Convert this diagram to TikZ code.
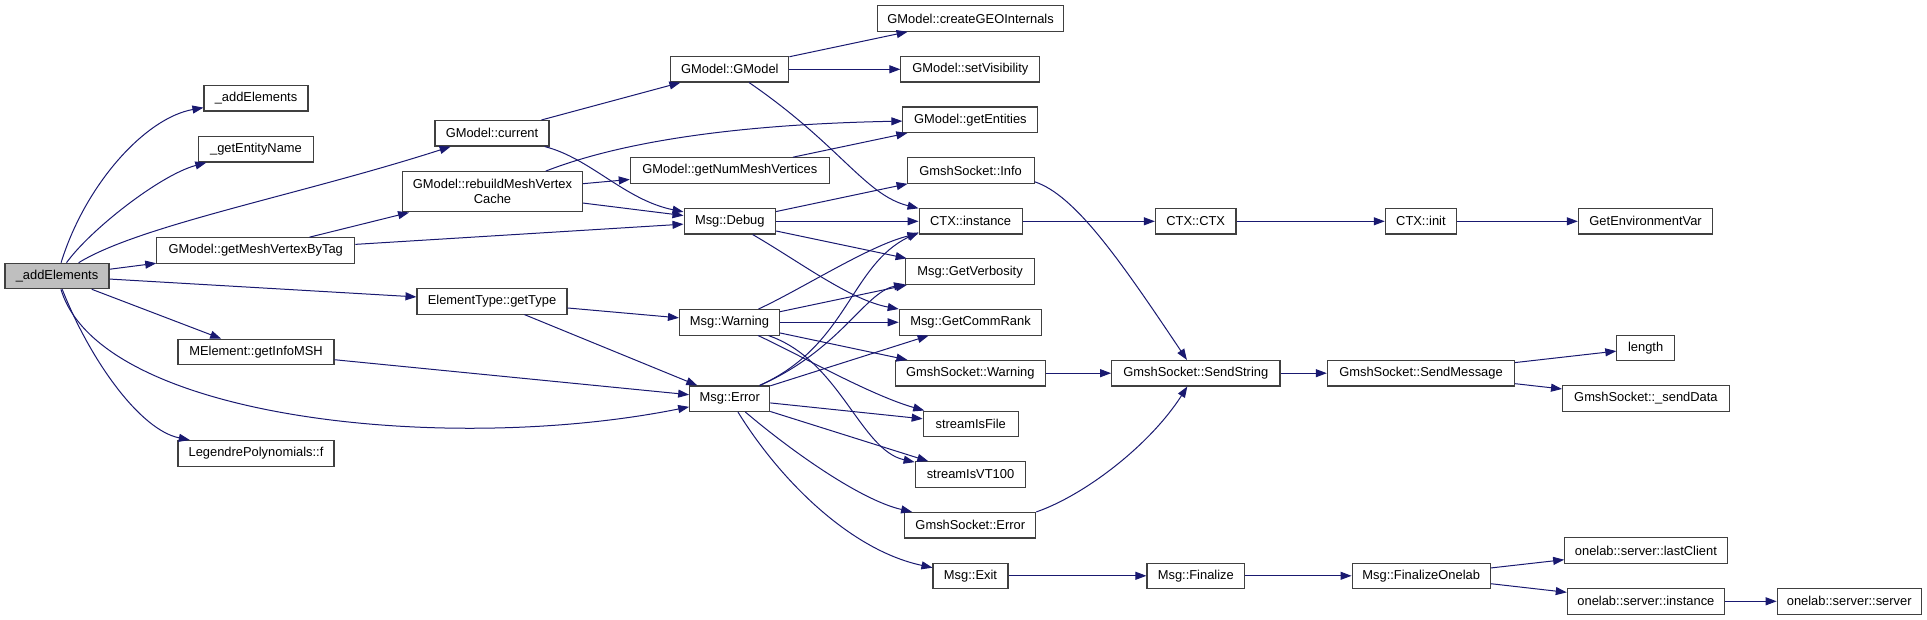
\documentclass[tikz,border=0pt]{standalone}
\usepackage{fontspec}
\setmainfont{Liberation Sans}
\usetikzlibrary{arrows.meta,calc}
\definecolor{edgec}{HTML}{191970}
\definecolor{nodeb}{HTML}{404040}
\definecolor{rootf}{HTML}{BFBFBF}
\begin{document}
\begin{tikzpicture}[x=1pt,y=-1pt,
  fn/.style={draw=nodeb,line width=1.1pt,fill=white,minimum height=25.5pt,inner sep=0pt,
    font=\fontsize{12.9}{15}\selectfont,text=black},
  rootfn/.style={fn,fill=rootf},
  call/.style={draw=edgec,line width=1pt,-{Triangle[length=11pt,width=8pt,fill=edgec]}}]
\useasboundingbox (0,0) rectangle (1927,620);
% column 0
\node[rootfn,minimum width=104pt] (root) at (57,276) {\_addElements};
% column 1
\node[fn,minimum width=104pt] (addEl) at (256,98.3) {\_addElements};
\node[fn,minimum width=114.5pt] (entName) at (256,149.3) {\_getEntityName};
\node[fn,minimum width=198pt] (mvbt) at (255.8,250.5) {GModel::getMeshVertexByTag};
\node[fn,minimum width=156pt] (infoMSH) at (256,352) {MElement::getInfoMSH};
\node[fn,minimum width=156pt] (legendre) at (256,453.3) {LegendrePolynomials::f};
% column 2
\node[fn,minimum width=114pt] (current) at (492,133.3) {GModel::current};
\node[fn,minimum width=180pt,minimum height=40.3pt,align=center] (rebuild) at (492.5,191.8) {GModel::rebuildMeshVertex\\Cache};
\node[fn,minimum width=150pt] (getType) at (492,301.3) {ElementType::getType};
% column 3
\node[fn,minimum width=118pt] (gmodel) at (729.8,69.3) {GModel::GModel};
\node[fn,minimum width=199pt] (numMV) at (729.8,170.5) {GModel::getNumMeshVertices};
\node[fn,minimum width=91.5pt] (debug) at (729.8,221.3) {Msg::Debug};
\node[fn,minimum width=100pt] (warning) at (729.5,322.3) {Msg::Warning};
\node[fn,minimum width=80pt] (error) at (729.7,398.7) {Msg::Error};
% column 4
\node[fn,minimum width=186.6pt] (createGEO) at (970.6,18.5) {GModel::createGEOInternals};
\node[fn,minimum width=139pt] (setVis) at (970.4,69.3) {GModel::setVisibility};
\node[fn,minimum width=135pt] (getEntities) at (970.4,119.8) {GModel::getEntities};
\node[fn,minimum width=127pt] (info) at (970.6,170.5) {GmshSocket::Info};
\node[fn,minimum width=103pt] (instance) at (970.6,221.3) {CTX::instance};
\node[fn,minimum width=129pt] (verbosity) at (970,271.7) {Msg::GetVerbosity};
\node[fn,minimum width=142.5pt] (commRank) at (970.5,322.3) {Msg::GetCommRank};
\node[fn,minimum width=150.5pt] (gsWarning) at (970.3,373.2) {GmshSocket::Warning};
\node[fn,minimum width=95pt] (isFile) at (970.7,423.8) {streamIsFile};
\node[fn,minimum width=110.7pt] (isVT) at (970.5,474.5) {streamIsVT100};
\node[fn,minimum width=131pt] (gsError) at (970.3,525.2) {GmshSocket::Error};
\node[fn,minimum width=75pt] (exit) at (970.5,575.8) {Msg::Exit};
% column 5
\node[fn,minimum width=80.6pt] (ctx) at (1195.7,221.3) {CTX::CTX};
\node[fn,minimum width=168.3pt] (sendString) at (1195.8,373.2) {GmshSocket::SendString};
\node[fn,minimum width=97.7pt] (finalize) at (1195.8,575.8) {Msg::Finalize};
% column 6
\node[fn,minimum width=71.2pt] (init) at (1420.9,221.3) {CTX::init};
\node[fn,minimum width=187.3pt] (sendMsg) at (1421,373.2) {GmshSocket::SendMessage};
\node[fn,minimum width=138.2pt] (finOnelab) at (1421.2,575.8) {Msg::FinalizeOnelab};
% column 7
\node[fn,minimum width=134.5pt] (envVar) at (1645.6,221.3) {GetEnvironmentVar};
\node[fn,minimum width=57.5pt] (length) at (1645.6,347.8) {length};
\node[fn,minimum width=166.7pt] (sendData) at (1645.9,398.3) {GmshSocket::\_sendData};
\node[fn,minimum width=162.4pt] (lastClient) at (1645.9,550.5) {onelab::server::lastClient};
\node[fn,minimum width=157.2pt] (olInstance) at (1645.9,601.3) {onelab::server::instance};
% column 8
\node[fn,minimum width=144pt] (olServer) at (1849.2,601.3) {onelab::server::server};
% edges
\draw[call] (root) .. controls (85,185) and (145,118) .. (addEl);
\draw[call] (root) .. controls (90,230) and (160,175) .. (entName);
\draw[call] (root) .. controls (140,225) and (300,195) .. (current);
\draw[call] (root) -- (mvbt);
\draw[call] (root) -- (getType);
\draw[call] (root) -- (infoMSH);
\draw[call] (root) .. controls (90,360) and (140,430) .. (legendre);
\draw[call] (root) .. controls (100,420) and (450,455) .. (error);
\draw[call] (current) -- (gmodel);
\draw[call] (current) .. controls (590,158) and (625,200) .. (debug);
\draw[call] (rebuild) .. controls (600,150) and (700,125) .. (getEntities);
\draw[call] (rebuild) -- (numMV);
\draw[call] (rebuild) -- (debug);
\draw[call] (mvbt) -- (rebuild);
\draw[call] (mvbt) -- (debug);
\draw[call] (getType) -- (warning);
\draw[call] (getType) -- (error);
\draw[call] (infoMSH) -- (error);
\draw[call] (gmodel) -- (createGEO);
\draw[call] (gmodel) -- (setVis);
\draw[call] (gmodel) .. controls (840,145) and (865,195) .. (instance);
\draw[call] (numMV) -- (getEntities);
\draw[call] (debug) -- (info);
\draw[call] (debug) -- (instance);
\draw[call] (debug) -- (verbosity);
\draw[call] (debug) .. controls (800,262) and (850,300) .. (commRank);
\draw[call] (warning) .. controls (800,290) and (870,245) .. (instance);
\draw[call] (warning) -- (verbosity);
\draw[call] (warning) -- (commRank);
\draw[call] (warning) -- (gsWarning);
\draw[call] (warning) .. controls (800,355) and (870,395) .. (isFile);
\draw[call] (warning) .. controls (840,360) and (860,450) .. (isVT);
\draw[call] (error) .. controls (848,346) and (850,265) .. (instance.192);
\draw[call] (error) .. controls (840,350) and (865,292) .. (verbosity);
\draw[call] (error) -- (commRank);
\draw[call] (error) -- (isFile);
\draw[call] (error) -- (isVT);
\draw[call] (error) .. controls (790,450) and (860,500) .. (gsError);
\draw[call] (error) .. controls (780,480) and (850,550) .. (exit);
\draw[call] (info.-10) .. controls (1075,195) and (1120,260) .. (sendString);
\draw[call] (instance) -- (ctx);
\draw[call] (gsWarning) -- (sendString);
\draw[call] (gsError.north east) .. controls (1085,495) and (1150,445) .. (sendString);
\draw[call] (ctx) -- (init);
\draw[call] (init) -- (envVar);
\draw[call] (sendString) -- (sendMsg);
\draw[call] (sendMsg) -- (length);
\draw[call] (sendMsg) -- (sendData);
\draw[call] (exit) -- (finalize);
\draw[call] (finalize) -- (finOnelab);
\draw[call] (finOnelab) -- (lastClient);
\draw[call] (finOnelab) -- (olInstance);
\draw[call] (olInstance) -- (olServer);
\end{tikzpicture}
\end{document}
